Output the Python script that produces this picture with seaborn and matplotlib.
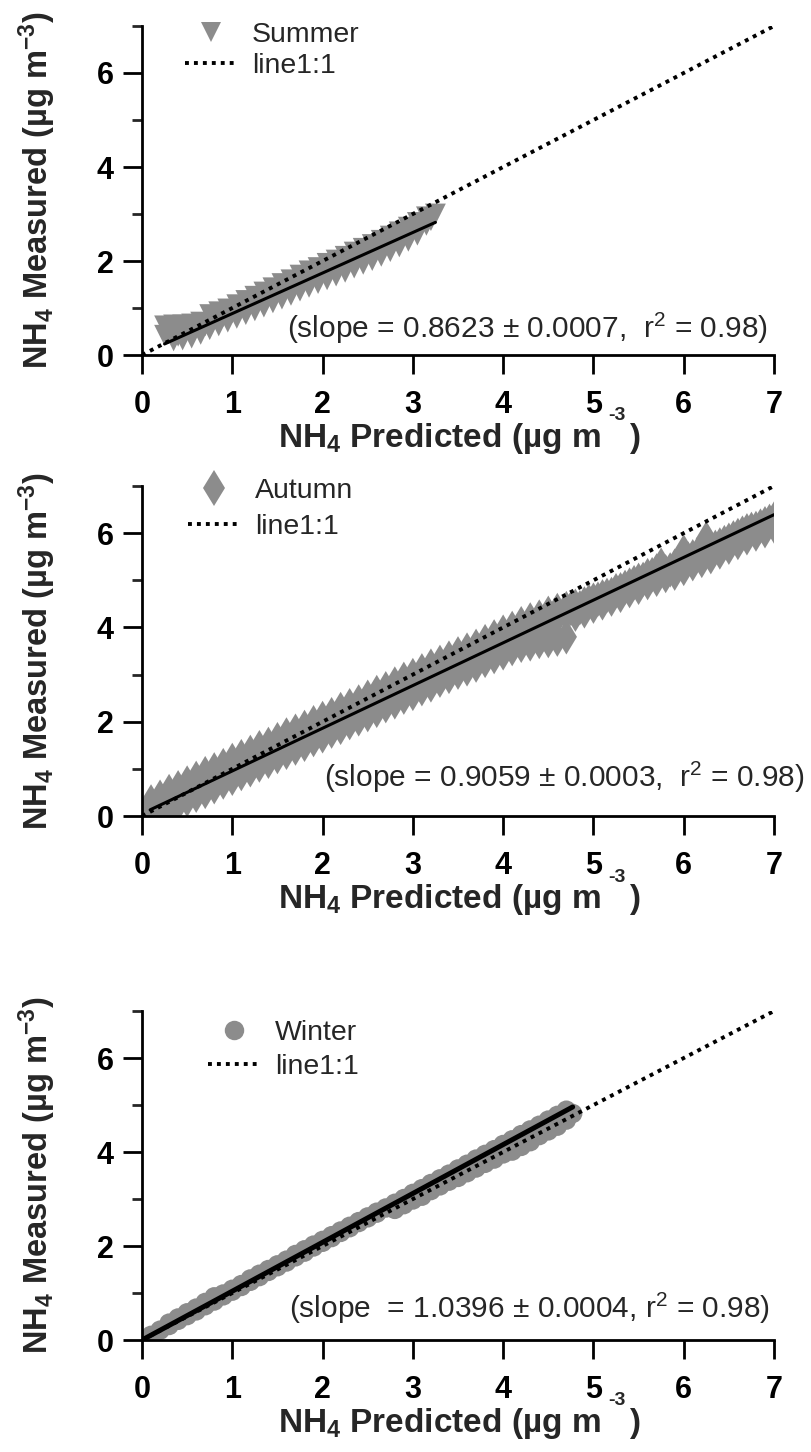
import matplotlib
matplotlib.use("Agg")
import matplotlib.pyplot as plt
from matplotlib.lines import Line2D
from matplotlib.ticker import MultipleLocator
import seaborn as sns
import numpy as np
import pandas as pd

# ---------------- data ----------------
summer_pred = [0.25, 0.35, 0.45, 0.55, 0.65, 0.75, 0.85, 0.95, 1.05, 1.15, 1.25, 1.35, 1.45, 1.55, 1.65, 1.75,
               1.85, 1.95, 2.05, 2.15, 2.25, 2.35, 2.45, 2.55, 2.65, 2.75, 2.85, 2.95, 3.05, 3.15, 3.25,
               0.25, 0.35, 0.45, 0.55, 0.65, 0.75, 0.85, 0.95, 1.05, 1.15, 1.25, 1.35, 1.45, 1.55, 1.65, 1.75,
               1.85, 1.95, 2.05, 2.15, 2.25, 2.35, 2.45, 2.55, 2.65, 2.75, 2.85, 2.95, 3.05, 3.15,
               0.35, 0.45, 0.55, 0.65, 0.75, 0.85, 0.95, 1.05, 1.15, 1.25, 1.35, 1.45, 1.55, 1.65, 1.75,
               1.85, 1.95, 2.05, 2.15, 2.25, 2.35, 2.45, 2.55, 2.65, 2.75, 2.85, 2.95, 3.05,
               0.30, 0.40, 0.50, 0.60, 0.70, 0.80, 0.90, 1.00, 1.10, 1.20, 1.30, 1.40, 1.50, 1.60, 1.70, 1.80,
               1.90, 2.00, 2.10, 2.20, 2.30, 2.40, 2.50, 2.60, 2.70, 2.80, 2.90, 3.00, 3.10, 3.20]
summer_meas = [0.62, 0.64, 0.64, 0.66, 0.70, 0.86, 0.92, 0.98, 1.07, 1.16, 1.25, 1.34, 1.43, 1.52, 1.60, 1.70,
               1.79, 1.86, 1.95, 2.02, 2.10, 2.19, 2.27, 2.35, 2.44, 2.53, 2.62, 2.72, 2.82, 2.94, 3.00,
               0.42, 0.45, 0.48, 0.52, 0.58, 0.66, 0.76, 0.84, 0.93, 1.01, 1.10, 1.19, 1.27, 1.36, 1.45, 1.53,
               1.62, 1.70, 1.79, 1.88, 1.96, 2.05, 2.14, 2.22, 2.31, 2.39, 2.48, 2.57, 2.65, 2.76,
               0.30, 0.32, 0.36, 0.44, 0.54, 0.62, 0.70, 0.78, 0.86, 0.94, 1.02, 1.11, 1.19, 1.27, 1.36,
               1.44, 1.52, 1.60, 1.68, 1.76, 1.85, 1.93, 2.01, 2.10, 2.20, 2.30, 2.42, 2.55,
               0.52, 0.40, 0.56, 0.60, 0.62, 0.78, 0.82, 0.90, 1.00, 1.08, 1.16, 1.26, 1.34, 1.42, 1.50, 1.58,
               1.68, 1.76, 1.84, 1.92, 2.02, 2.10, 2.18, 2.28, 2.36, 2.46, 2.56, 2.66, 2.78, 2.86]

autumn_pred = [0.10, 0.20, 0.30, 0.40, 0.50, 0.60, 0.70, 0.80, 0.90, 1.00, 1.10, 1.20, 1.30, 1.40, 1.50, 1.60,
               1.70, 1.80, 1.90, 2.00, 2.10, 2.20, 2.30, 2.40, 2.50, 2.60, 2.70, 2.80, 2.90, 3.00, 3.10, 3.20,
               3.30, 3.40, 3.50, 3.60, 3.70, 3.80, 3.90, 4.00, 4.10, 4.20, 4.30, 4.40, 4.50, 4.60, 4.70,
               0.10, 0.20, 0.30, 0.40, 0.50, 0.60, 0.70, 0.80, 0.90, 1.00, 1.10, 1.20, 1.30, 1.40, 1.50, 1.60,
               1.70, 1.80, 1.90, 2.00, 2.10, 2.20, 2.30, 2.40, 2.50, 2.60, 2.70, 2.80, 2.90, 3.00, 3.10, 3.20,
               3.30, 3.40, 3.50, 3.60, 3.70, 3.80, 3.90, 4.00, 4.10, 4.20, 4.30, 4.40, 4.50, 4.60, 4.70,
               0.10, 0.20, 0.30, 0.40, 0.50, 0.60, 0.70, 0.80, 0.90, 1.00, 1.10, 1.20, 1.30, 1.40, 1.50, 1.60,
               1.70, 1.80, 1.90, 2.00, 2.10, 2.20, 2.30, 2.40, 2.50, 2.60, 2.70, 2.80, 2.90, 3.00, 3.10, 3.20,
               3.30, 3.40, 3.50, 3.60, 3.70, 3.80, 3.90, 4.00, 4.10, 4.20, 4.30, 4.40, 4.50, 4.60, 4.70,
               4.75, 4.80, 4.85, 4.90, 4.95, 5.00, 5.05, 5.10, 5.15, 5.20, 5.25, 5.30, 5.35, 5.40, 5.45, 5.50,
               5.55, 5.60, 5.65, 5.70, 5.75, 5.80, 5.85, 5.90, 5.95, 6.00, 6.05, 6.10, 6.15, 6.20, 6.25, 6.30,
               6.35, 6.40, 6.45, 6.50, 6.55, 6.60, 6.65, 6.70, 6.75, 6.80, 6.85, 6.90, 6.95, 7.00,
               4.80, 4.90, 5.00, 5.10, 5.20, 5.30, 5.40, 5.50, 5.60, 5.70, 5.80, 5.90, 6.00, 6.10, 6.20, 6.30,
               6.40, 6.50, 6.60, 6.70, 6.80, 6.90, 7.00]
autumn_meas = [0.30, 0.40, 0.52, 0.60, 0.70, 0.80, 0.90, 0.98, 1.07, 1.18, 1.26, 1.35, 1.45, 1.52, 1.62, 1.72,
               1.80, 1.88, 1.98, 2.07, 2.15, 2.26, 2.34, 2.42, 2.52, 2.62, 2.70, 2.80, 2.90, 2.98, 3.08, 3.18,
               3.26, 3.35, 3.44, 3.52, 3.60, 3.70, 3.80, 3.90, 3.98, 4.08, 4.16, 4.22, 4.30, 4.36, 4.40,
               0.14, 0.23, 0.32, 0.41, 0.50, 0.59, 0.68, 0.77, 0.87, 0.96, 1.05, 1.14, 1.23, 1.32, 1.41, 1.50,
               1.59, 1.68, 1.77, 1.86, 1.95, 2.04, 2.13, 2.22, 2.31, 2.40, 2.50, 2.59, 2.68, 2.77, 2.86, 2.95,
               3.04, 3.13, 3.22, 3.31, 3.40, 3.49, 3.58, 3.67, 3.76, 3.85, 3.95, 4.04, 4.13, 4.22, 4.31,
               0.05, 0.10, 0.18, 0.26, 0.35, 0.44, 0.52, 0.62, 0.72, 0.80, 0.90, 0.98, 1.08, 1.16, 1.26, 1.35,
               1.44, 1.52, 1.62, 1.70, 1.80, 1.88, 1.98, 2.06, 2.15, 2.24, 2.34, 2.42, 2.52, 2.60, 2.70, 2.78,
               2.88, 2.96, 3.05, 3.12, 3.20, 3.30, 3.38, 3.46, 3.55, 3.62, 3.65, 3.70, 3.72, 3.75, 3.80,
               4.40, 4.45, 4.42, 4.50, 4.55, 4.58, 4.60, 4.65, 4.68, 4.70, 4.78, 4.80, 4.85, 4.90, 4.95, 5.00,
               5.02, 5.10, 5.12, 5.20, 5.32, 5.18, 5.22, 5.30, 5.40, 5.60, 5.45, 5.50, 5.55, 5.62, 5.88, 5.65,
               5.70, 5.75, 5.80, 5.85, 5.90, 5.95, 6.00, 6.05, 6.08, 6.10, 6.15, 6.20, 6.25, 6.30,
               4.28, 4.35, 4.45, 4.52, 4.60, 4.68, 4.78, 4.85, 4.95, 5.02, 5.10, 5.15, 5.25, 5.35, 5.42, 5.50,
               5.60, 5.70, 5.80, 5.90, 5.98, 6.05, 6.15]

winter_pred = [0.00, 0.10, 0.20, 0.30, 0.40, 0.50, 0.60, 0.70, 0.80, 0.90, 1.00, 1.10, 1.20, 1.30, 1.40, 1.50,
               1.60, 1.70, 1.80, 1.90, 2.00, 2.10, 2.20, 2.30, 2.40, 2.50, 2.60, 2.70, 2.80, 2.90, 3.00, 3.10,
               3.20, 3.30, 3.40, 3.50, 3.60, 3.70, 3.80, 3.90, 4.00, 4.10, 4.20, 4.30, 4.40, 4.50, 4.60, 4.70,
               0.30, 0.40, 0.50, 0.60, 0.70, 0.80, 0.90, 1.00, 1.10, 1.20, 1.30, 1.40, 1.50, 1.60, 1.70, 1.80,
               1.90, 2.00, 2.10, 2.20, 2.30, 2.40, 2.50, 2.60,
               2.80, 2.90, 3.00, 3.10, 3.20, 3.30, 3.40, 3.50, 3.60, 3.70, 3.80, 3.90, 4.00, 4.10, 4.20, 4.30,
               4.40, 4.50, 4.60, 4.70, 4.77]
winter_meas = [0.00, 0.10, 0.21, 0.31, 0.42, 0.52, 0.62, 0.73, 0.83, 0.94, 1.04, 1.14, 1.25, 1.35, 1.46, 1.56,
               1.66, 1.77, 1.87, 1.98, 2.08, 2.18, 2.29, 2.39, 2.50, 2.60, 2.70, 2.81, 2.91, 3.01, 3.12, 3.22,
               3.33, 3.43, 3.53, 3.64, 3.74, 3.85, 3.95, 4.05, 4.16, 4.26, 4.37, 4.47, 4.57, 4.68, 4.78, 4.89,
               0.36, 0.47, 0.58, 0.68, 0.80, 0.92, 0.98, 1.08, 1.18, 1.30, 1.40, 1.50, 1.60, 1.70, 1.82, 1.92,
               2.02, 2.12, 2.22, 2.32, 2.42, 2.52, 2.62, 2.72,
               2.78, 2.88, 2.98, 3.06, 3.18, 3.28, 3.38, 3.46, 3.56, 3.66, 3.76, 3.85, 3.96, 4.02, 4.12, 4.22,
               4.35, 4.45, 4.55, 4.68, 4.82]

seasons = ["Summer", "Autumn", "Winter"]
fit_slope = [0.8623, 0.9059, 1.0396]
fit_err = ["0.0007", "0.0003", "0.0004"]
fit_intercept = [0.02, 0.05, 0.00]
fit_xrange = [(0.25, 3.25), (0.09, 7.0), (0.02, 4.77)]
r2 = ["0.98", "0.98", "0.98"]
one_to_one = [0.0, 7.0]
x_ticks = [0, 1, 2, 3, 4, 5, 6, 7]
y_ticks = [0, 2, 4, 6]

# ---------------- style ----------------
sns.set_style("ticks")
plt.rcParams["font.family"] = ["Liberation Sans", "DejaVu Sans"]
plt.rcParams["mathtext.fontset"] = "custom"
plt.rcParams["mathtext.rm"] = "Liberation Sans"
plt.rcParams["mathtext.it"] = "Liberation Sans:italic"
plt.rcParams["mathtext.bf"] = "Liberation Sans:bold"

grey = "#8c8c8c"
markers = ["v", "d", "o"]
msizes = [15, 18, 14]          # marker size in points
fit_lw = [2.2, 2.2, 3.6]
dot_style = (0, (1, 1.3))

data = [(summer_pred, summer_meas), (autumn_pred, autumn_meas), (winter_pred, winter_meas)]
ann_text = [
    "(slope = %.4f ± %s,  r$^{\\mathrm{2}}$ = %s)" % (fit_slope[0], fit_err[0], r2[0]),
    "(slope = %.4f ± %s,  r$^{\\mathrm{2}}$ = %s)" % (fit_slope[1], fit_err[1], r2[1]),
    "(slope  = %.4f ± %s, r$^{\\mathrm{2}}$ = %s)" % (fit_slope[2], fit_err[2], r2[2]),
]
ann_pos = [(0.99, 0.052), (1.049, 0.088), (0.994, 0.067)]
leg_anchor = [(0.068, 1.011), (0.073, 1.023), (0.104, 0.974)]
leg_spacing = [0.15, 0.35, 0.28]

fig = plt.figure(figsize=(8.11, 14.52), dpi=100)
axes_rects = [
    [0.1751, 0.7555, 0.7793, 0.2266],
    [0.1751, 0.4380, 0.7793, 0.2273],
    [0.1751, 0.0771, 0.7793, 0.2266],
]

for i, rect in enumerate(axes_rects):
    ax = fig.add_axes(rect)
    xs, ys = data[i]
    df = pd.DataFrame({"pred": xs, "meas": ys})
    sns.scatterplot(data=df, x="pred", y="meas", marker=markers[i], s=msizes[i] ** 2,
                    color=grey, linewidth=0, edgecolor="none", ax=ax, legend=False, zorder=2)
    # fit line
    fx = np.array(fit_xrange[i])
    fy = fit_slope[i] * fx + fit_intercept[i]
    sns.lineplot(x=fx, y=fy, color="black", linewidth=fit_lw[i], ax=ax, zorder=3)
    # 1:1 line
    sns.lineplot(x=one_to_one, y=one_to_one, color="black", linewidth=2.8, ax=ax, zorder=4)
    ax.lines[-1].set_linestyle(dot_style)
    ax.lines[-1].set_dash_capstyle("butt")

    ax.set_xlim(0, 7)
    ax.set_ylim(0, 7)
    ax.set_xticks(x_ticks)
    ax.set_yticks(y_ticks)
    ax.yaxis.set_minor_locator(MultipleLocator(1))
    ax.tick_params(axis="both", which="major", direction="out", length=13.5, width=2,
                   labelsize=22, colors="black")
    ax.tick_params(axis="x", which="major", pad=12)
    ax.tick_params(axis="y", which="major", pad=7)
    ax.tick_params(axis="y", which="minor", direction="out", length=7, width=2)
    for lab in ax.get_xticklabels() + ax.get_yticklabels():
        lab.set_fontweight("bold")
    for s in ["top", "right"]:
        ax.spines[s].set_visible(False)
    for s in ["left", "bottom"]:
        ax.spines[s].set_linewidth(2)
        ax.spines[s].set_color("black")
    ax.grid(False)

    # x label: "NH4 Predicted (µg m" + high-raised "-3" + ")"
    ax.set_xlabel("NH$_{\\mathbf{4}}$ Predicted (µg m", fontsize=24, fontweight="bold",
                  ha="left", va="baseline")
    ax.xaxis.set_label_coords(0.215, -0.28)
    ax.text(0.752, -0.185, "-3", transform=ax.transAxes, fontsize=14, fontweight="bold",
            ha="center", va="center")
    ax.text(0.779, -0.28, ")", transform=ax.transAxes, fontsize=24, fontweight="bold",
            ha="center", va="baseline")
    ax.set_ylabel("NH$_{\\mathbf{4}}$ Measured (µg m$^{\\mathbf{-3}}$)", fontsize=23.5, fontweight="bold")
    ax.yaxis.set_label_coords(-0.133, 0.5)

    ax.text(ann_pos[i][0], ann_pos[i][1], ann_text[i], transform=ax.transAxes, fontsize=21.5,
            ha="right", va="baseline", clip_on=False)

    handles = [
        Line2D([], [], linestyle="none", marker=markers[i], markersize=msizes[i],
               markerfacecolor=grey, markeredgewidth=0),
        Line2D([], [], color="black", linewidth=2.8, linestyle=dot_style, dash_capstyle="butt"),
    ]
    ax.legend(handles, [seasons[i], "line1:1"], loc="upper left", bbox_to_anchor=leg_anchor[i],
              frameon=False, fontsize=20.5, handlelength=1.85, handletextpad=0.5,
              labelspacing=leg_spacing[i], borderpad=0, borderaxespad=0)

fig.savefig("out.png", dpi=100)
